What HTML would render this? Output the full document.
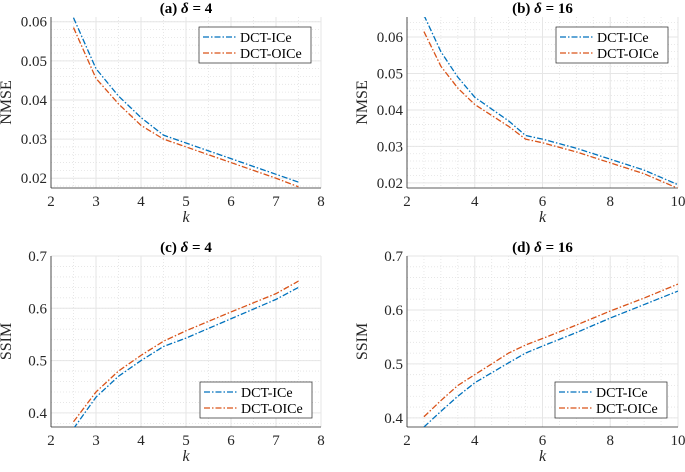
<!DOCTYPE html>
<html><head><meta charset="utf-8"><style>
body{margin:0;background:#fff}
svg text{font-family:"Liberation Serif","Times New Roman",serif}
</style></head><body>
<svg id="s" width="685" height="467" xmlns="http://www.w3.org/2000/svg" font-family="Liberation Serif, serif"></svg>
<script>
const kA=[2.5,3,3.5,4,4.5,5,5.5,6,6.5,7,7.5];
const nmseIceA=[0.061,0.048,0.041,0.0355,0.031,0.029,0.027,0.025,0.023,0.021,0.019];
const nmseOiceA=[0.0585,0.0455,0.039,0.0335,0.030,0.028,0.026,0.024,0.022,0.020,0.0178];
const kB=[2.5,3,3.5,4,5,5.5,6,7,8,9,10];
const nmseIceB=[0.066,0.056,0.049,0.0435,0.037,0.033,0.032,0.0295,0.0265,0.0235,0.0195];
const nmseOiceB=[0.0615,0.052,0.046,0.0415,0.0355,0.032,0.031,0.0285,0.0255,0.0225,0.0185];
const kC=[2.5,3,3.5,4,4.5,5,6,7,7.5];
const ssimIceC=[0.37,0.43,0.47,0.50,0.527,0.543,0.58,0.617,0.64];
const ssimOiceC=[0.383,0.44,0.48,0.51,0.537,0.557,0.593,0.628,0.652];
const kD=[2.5,3,3.5,4,5,5.5,6,7,8,9,10];
const ssimIceD=[0.383,0.412,0.44,0.465,0.502,0.52,0.533,0.558,0.585,0.61,0.635];
const ssimOiceD=[0.402,0.432,0.46,0.48,0.52,0.535,0.547,0.572,0.598,0.622,0.648];
const ticksX8=[2,3,4,5,6,7,8];
const ticksX10=[2,4,6,8,10];
const ticksNmse=[0.02,0.03,0.04,0.05,0.06];
const ticksSsim=[0.4,0.5,0.6,0.7];

const NS="http://www.w3.org/2000/svg";
const svg=document.getElementById('s');
const FF='"Liberation Serif", serif';
function el(t,a,p){const e=document.createElementNS(NS,t);for(const k in a)e.setAttribute(k,a[k]);if(t==='text')e.style.fontFamily=FF;(p||svg).appendChild(e);return e;}
const blue="#0072BD",red="#D95319",dash="6,2,1.5,2";

function panel(o){
  const g=el('g',{});
  
  
  const X=v=>o.x0+(v-o.xmin)/(o.xmax-o.xmin)*(o.x1-o.x0);
  const Y=v=>o.y1-(v-o.ymin)/(o.ymax-o.ymin)*(o.y1-o.y0);
  for(let v=o.xmin;v<=o.xmax+1e-9;v+=o.xminor){const p=X(v);el('line',{x1:p,x2:p,y1:o.y0,y2:o.y1,stroke:'#e2e2e2','stroke-dasharray':'1,2','stroke-width':0.8},g);}
  for(let v=Math.ceil(o.ymin/o.yminor)*o.yminor;v<=o.ymax;v+=o.yminor){const p=Y(v);el('line',{x1:o.x0,x2:o.x1,y1:p,y2:p,stroke:'#e2e2e2','stroke-dasharray':'1,2','stroke-width':0.8},g);}
  o.xt.forEach(v=>{const p=X(v);el('line',{x1:p,x2:p,y1:o.y0,y2:o.y1,stroke:'#e6e6e6','stroke-width':1},g);
    const t=el('text',{x:p,y:o.y1+18,'text-anchor':'middle','font-size':15,fill:'#262626'},g);t.textContent=v;
    });
  o.yt.forEach(v=>{const p=Y(v);el('line',{x1:o.x0,x2:o.x1,y1:p,y2:p,stroke:'#e6e6e6','stroke-width':1},g);
    const t=el('text',{x:o.x0-4,y:p+5,'text-anchor':'end','font-size':15,fill:'#262626'},g);t.textContent=o.fmt(v);
    });
  el('line',{x1:o.x0,x2:o.x0,y1:o.y0,y2:o.y1,stroke:'#262626','stroke-width':0.8},g);
  el('line',{x1:o.x0,x2:o.x1,y1:o.y1,y2:o.y1,stroke:'#262626','stroke-width':0.8},g);
  const cp='c'+o.name;const cl=el('clipPath',{id:cp},g);el('rect',{x:o.x0,y:o.y0,width:o.x1-o.x0,height:o.y1-o.y0},cl);
  [[o.s1,blue,'line-dct-ice'],[o.s2,red,'line-dct-oice']].forEach(([s,c,n])=>{
    const pl=el('polyline',{points:o.k.map((k,i)=>X(k)+','+Y(s[i])).join(' '),fill:'none',stroke:c,'stroke-width':1.3,'stroke-dasharray':dash,'clip-path':'url(#'+cp+')'},g);
    });
  const tt=el('text',{x:(o.x0+o.x1)/2,y:o.y0-4,'text-anchor':'middle','font-size':15,'font-weight':'bold',fill:'#000'},g);
  tt.innerHTML=o.title[0]+' <tspan font-style="italic">δ</tspan> = '+o.title[1];
  
  const xl=el('text',{x:(o.x0+o.x1)/2,y:o.y1+34,'text-anchor':'middle','font-size':16,'font-style':'italic',fill:'#262626'},g);xl.textContent='k';
  
  const cy=(o.y0+o.y1)/2;
  const yl=el('text',{x:0,y:0,transform:`translate(${o.x0-40},${cy}) rotate(-90)`,'text-anchor':'middle','font-size':16,fill:'#262626'},g);yl.textContent=o.ylab;
  
  const lg=el('g',{},g);
  el('rect',{x:o.lx,y:o.ly,width:112,height:36,fill:'#fff',stroke:'#262626','stroke-width':0.7},lg);
  [['DCT-ICe',blue],['DCT-OICe',red]].forEach(([n,c],i)=>{const yy=o.ly+10+i*16;
    el('line',{x1:o.lx+4,x2:o.lx+37,y1:yy,y2:yy,stroke:c,'stroke-width':1.3,'stroke-dasharray':dash},lg);
    const t=el('text',{x:o.lx+41,y:yy+5,'font-size':14,fill:'#000'},lg);t.textContent=n;
    });
}
const f2=v=>v.toFixed(2),f1=v=>v.toFixed(1);
panel({name:'panel-a',x0:51,x1:321,y0:17,y1:188,xmin:2,xmax:8,ymin:0.0175,ymax:0.0612,xminor:0.5,yminor:0.002,xt:ticksX8,yt:ticksNmse,fmt:f2,k:kA,s1:nmseIceA,s2:nmseOiceA,title:['(a)','4'],ylab:'NMSE',lx:199,ly:27});
panel({name:'panel-b',x0:407,x1:678,y0:17,y1:188,xmin:2,xmax:10,ymin:0.0186,ymax:0.0655,xminor:0.5,yminor:0.002,xt:ticksX10,yt:ticksNmse,fmt:f2,k:kB,s1:nmseIceB,s2:nmseOiceB,title:['(b)','16'],ylab:'NMSE',lx:556,ly:27});
panel({name:'panel-c',x0:51,x1:321,y0:256,y1:427,xmin:2,xmax:8,ymin:0.373,ymax:0.7,xminor:0.5,yminor:0.02,xt:ticksX8,yt:ticksSsim,fmt:f1,k:kC,s1:ssimIceC,s2:ssimOiceC,title:['(c)','4'],ylab:'SSIM',lx:200,ly:382});
panel({name:'panel-d',x0:407,x1:678,y0:256,y1:427,xmin:2,xmax:10,ymin:0.383,ymax:0.7,xminor:0.5,yminor:0.02,xt:ticksX10,yt:ticksSsim,fmt:f1,k:kD,s1:ssimIceD,s2:ssimOiceD,title:['(d)','16'],ylab:'SSIM',lx:555,ly:382});
</script>
</body></html>
